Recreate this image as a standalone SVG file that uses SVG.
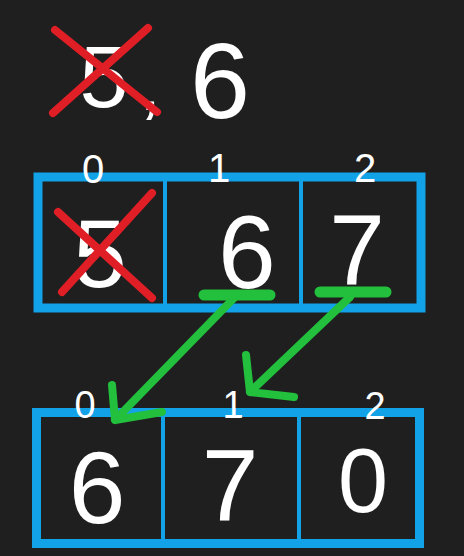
<svg xmlns="http://www.w3.org/2000/svg" width="464" height="556" viewBox="0 0 464 556">
<style>
.bg{fill:#1f1f1f}
.box{fill:none;stroke:#12a2e8;stroke-width:9}
.div{stroke:#12a2e8;stroke-width:4}
.t{fill:#ffffff;font-family:"Liberation Sans",Arial,sans-serif;text-anchor:middle}
.idx{font-size:40px}
.val{font-size:104px}
.x{stroke:#e01e26;stroke-width:8;stroke-linecap:round;fill:none}
.g{stroke:#22c03c;stroke-width:8;stroke-linecap:round;stroke-linejoin:round;fill:none}
.u{stroke:#22c03c;stroke-width:11;stroke-linecap:round;fill:none}
</style>
<rect class="bg" x="0" y="0" width="464" height="556"/>
<g id="header">
<text class="t" x="104" y="107" style="font-size:88px">5</text>
<text class="t" x="150" y="110" style="font-size:80px">,</text>
<text class="t" x="220" y="118" style="font-size:108px">6</text>
<path class="x" d="M53 113 L148 28 M55 30 L157 112"/>
</g>
<g id="array-top">
<rect class="box" x="38" y="177" width="383" height="131"/>
<line class="div" x1="165" y1="177" x2="165" y2="308"/>
<line class="div" x1="301" y1="177" x2="301" y2="308"/>
<g id="top-cell-0">
<text class="t idx" x="93" y="183">0</text>
<text class="t val" x="100" y="287" style="font-size:96px">5</text>
<path class="x" d="M62 292 L152 193 M58 212 L152 298"/>
</g>
<g id="top-cell-1">
<text class="t idx" x="219" y="182">1</text>
<text class="t val" x="247" y="288" style="font-size:104px">6</text>
</g>
<g id="top-cell-2">
<text class="t idx" x="365" y="182">2</text>
<text class="t val" x="357" y="285" style="font-size:100px">7</text>
</g>
</g>
<g id="array-bottom">
<rect class="box" x="36.5" y="412.5" width="383" height="131"/>
<line class="div" x1="163" y1="412" x2="163" y2="543"/>
<line class="div" x1="299" y1="412" x2="299" y2="543"/>
<g id="bot-cell-0">
<text class="t idx" x="85" y="418" style="font-size:38px">0</text>
<text class="t val" x="97" y="523" style="font-size:102px">6</text>
</g>
<g id="bot-cell-1">
<text class="t idx" x="233" y="418" style="font-size:38px">1</text>
<text class="t val" x="230" y="521" style="font-size:102px">7</text>
</g>
<g id="bot-cell-2">
<text class="t idx" x="375" y="419" style="font-size:38px">2</text>
<text class="t val" x="363" y="512" style="font-size:90px">0</text>
</g>
</g>
<g id="connectors">
<path class="u" d="M204 295 L270 295"/>
<path class="u" d="M320 292 L386 292"/>
<path class="g" d="M235 297 L115 420 M112 385 L115 420 L162 412"/>
<path class="g" d="M350 297 L250 392 M246 355 L250 392 L294 397"/>
</g>
</svg>
